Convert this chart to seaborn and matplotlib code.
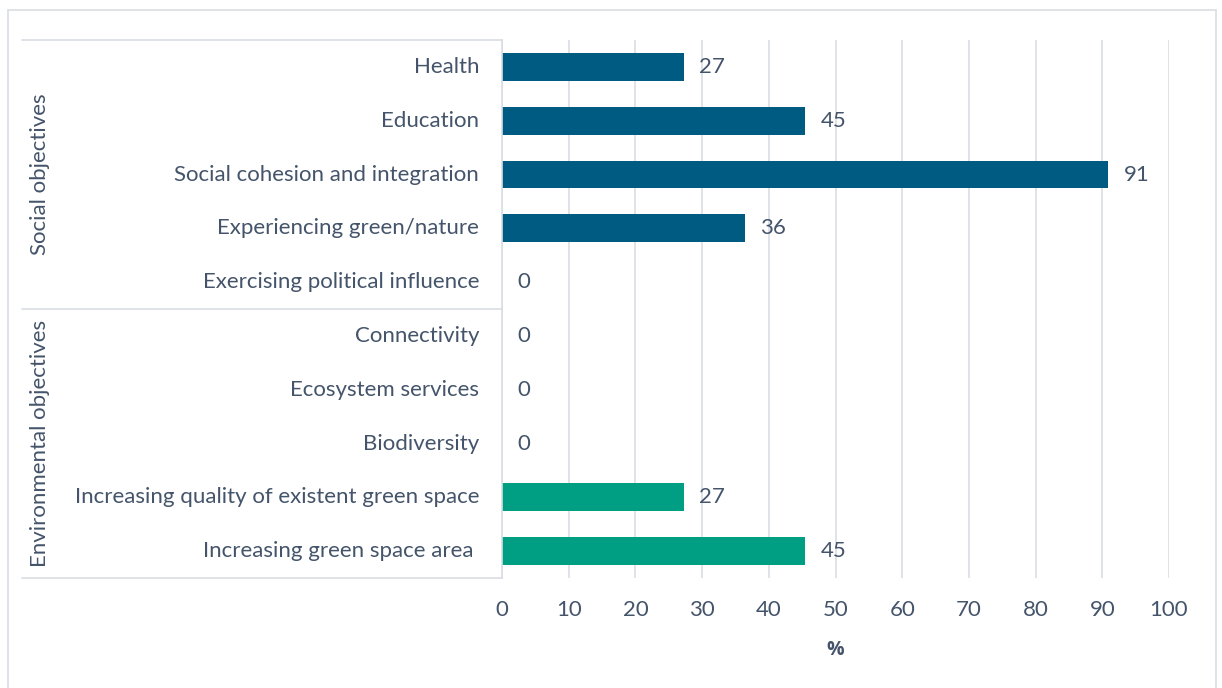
import matplotlib
matplotlib.use("Agg")
import matplotlib.pyplot as plt
import matplotlib.transforms as mtrans
import seaborn as sns
import pandas as pd
from matplotlib.patches import Rectangle
from matplotlib.lines import Line2D

categories = ["Health", "Education", "Social cohesion and integration",
              "Experiencing green/nature", "Exercising political influence",
              "Connectivity", "Ecosystem services", "Biodiversity",
              "Increasing quality of existent green space",
              "Increasing green space area "]
values = [27.27, 45.45, 90.91, 36.36, 0, 0, 0, 0, 27.27, 45.45]
groups = ["Social objectives"] * 5 + ["Environmental objectives"] * 5
group_names = ["Social objectives", "Environmental objectives"]
colors = ["#005b82", "#009e82"]
xticks = [0, 10, 20, 30, 40, 50, 60, 70, 80, 90, 100]

df = pd.DataFrame({"category": categories, "value": values, "group": groups})

sns.set_theme(style="white")
plt.rcParams["font.family"] = ["Lato", "DejaVu Sans"]
txt = "#44546a"
grid = "#d9dde3"
fs = 16

W, H = 1222, 688
fig = plt.figure(figsize=(W / 100, H / 100), dpi=100)
ax = fig.add_axes([502 / W, 1 - 578 / H, (1169 - 502) / W, (578 - 40) / H])

sns.barplot(data=df, y="category", x="value", hue="group", hue_order=group_names,
            palette=colors, saturation=1, orient="h", dodge=False, width=0.52, ax=ax,
            legend=False, order=categories, linewidth=0)

ax.set_xlim(0, 100)
ax.set_ylim(len(categories) - 0.5, -0.5)
ax.set_xticks(xticks)
ax.set_xticklabels([str(t) for t in xticks])
for t in xticks:
    ax.axvline(t, color=grid, lw=1.2, zorder=0)
ax.tick_params(axis="x", length=8, width=1.2, color=grid, pad=8, labelsize=fs, labelcolor=txt)
ax.tick_params(axis="y", length=0, pad=16.5, labelsize=fs, labelcolor=txt)
shift = mtrans.ScaledTranslation(0, 2 / 100, fig.dpi_scale_trans)
for lab in ax.get_yticklabels():
    lab.set_transform(lab.get_transform() + shift)
ax.set_ylabel("")
ax.set_xlabel("%", fontsize=14, fontweight="bold", family=["Open Sans", "DejaVu Sans"],
              color=txt, labelpad=14)
for s in ["top", "right", "bottom"]:
    ax.spines[s].set_visible(False)
ax.spines["left"].set_color(grid)
ax.spines["left"].set_linewidth(1.2)

for i, v in enumerate(values):
    ax.annotate(f"{v:.0f}", (v, i), xytext=(11, 0), textcoords="offset points",
                va="center", ha="left", fontsize=fs, color=txt)

def fy(py):
    return 1 - py / H
def fx(px):
    return px / W
for py in [40, 309, 578]:
    fig.add_artist(Line2D([fx(22), fx(502)], [fy(py), fy(py)], color=grid, lw=1.2))
fig.text(fx(40), fy(174.5), group_names[0], rotation=90, ha="center", va="center",
         fontsize=fs, color=txt)
fig.text(fx(40), fy(443.5), group_names[1], rotation=90, ha="center", va="center",
         fontsize=fs, color=txt)

fig.add_artist(Rectangle((fx(8), fy(700)), fx(1216) - fx(8), fy(10) - fy(700),
                         fill=False, edgecolor=grid, lw=1.2, transform=fig.transFigure))

fig.savefig("out.png", dpi=100, facecolor="white")
